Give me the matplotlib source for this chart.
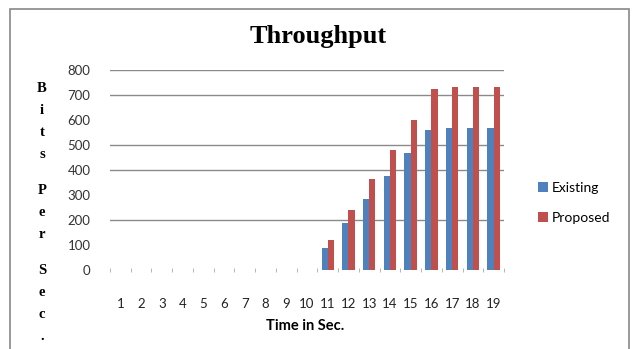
import matplotlib
matplotlib.use("Agg")
import matplotlib.pyplot as plt
from matplotlib.patches import Rectangle
import numpy as np

categories = [str(i) for i in range(1, 20)]
existing = [0, 0, 0, 0, 0, 0, 0, 0, 0, 0, 90, 188, 284, 376, 468, 560, 568, 568, 568]
proposed = [0, 0, 0, 0, 0, 0, 0, 0, 0, 0, 120, 240, 364, 480, 600, 724, 732, 732, 732]
y_ticks = [0, 100, 200, 300, 400, 500, 600, 700, 800]
visible_grid = [200, 400, 500, 700, 800]
ylabel_text = "Bits Per Sec."

fig = plt.figure(figsize=(6.36, 3.49), dpi=100)
ax = fig.add_axes([110/636, 1-270/349, (504-110)/636, 200/349])

x = np.arange(len(categories))
w = 0.3
ax.bar(x - w/2, existing, w, color="#4F81BD", label="Existing", zorder=3)
ax.bar(x + w/2, proposed, w, color="#C0504D", label="Proposed", zorder=3)

ax.set_xlim(-0.5, len(categories) - 0.5)
ax.set_ylim(0, 800)
for g in visible_grid:
    ax.axhline(g, color="#8A8A8A", lw=1.0, zorder=1)

for s in ax.spines.values():
    s.set_visible(False)

ax.set_yticks(y_ticks)
ax.set_yticklabels([str(v) for v in y_ticks], fontfamily="Lato", fontsize=9.5, color="#333333")
ax.tick_params(axis="y", length=0, pad=14)
ax.set_xticks(x)
ax.set_xticklabels(categories, fontfamily="Lato", fontsize=9.5, color="#222222")
ax.tick_params(axis="x", which="major", length=0, pad=20)
ax.set_xticks(np.arange(-0.5, len(categories), 1.0), minor=True)
ax.tick_params(axis="x", which="minor", length=3, direction="inout", color="#AAAAAA")

fig.text(318/636, 1-37/349, "Throughput", ha="center", va="center",
         fontfamily="Liberation Serif", fontweight="bold", fontsize=19)
fig.text(305/636, 1-326/349, "Time in Sec.", ha="center", va="center",
         fontfamily="Lato", fontweight="bold", fontsize=10.5)

# stacked vertical y label
yy = 88
for ch in ylabel_text:
    if ch != " ":
        fig.text(42/636, 1-yy/349, ch, ha="center", va="center",
                 fontfamily="Liberation Serif", fontweight="bold", fontsize=10.5)
    yy += 22 if ch != " " else 14

leg = ax.legend(loc="center left", bbox_to_anchor=(1.055, 0.335), frameon=False,
                prop={"family": "Lato", "size": 10}, handlelength=0.7, handleheight=0.7,
                handletextpad=0.3, labelspacing=1.3)

fig.patches.append(Rectangle((10/636, -0.1), 619/636, 1.1 - 9/349, transform=fig.transFigure,
                             fill=False, edgecolor="#888888", lw=1.2))

fig.savefig("out.png", dpi=100)
